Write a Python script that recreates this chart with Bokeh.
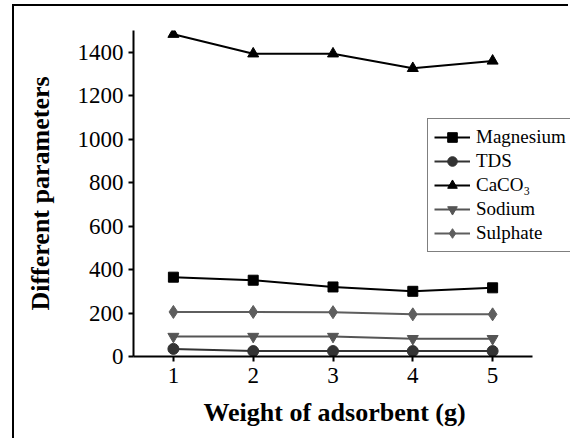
from bokeh.plotting import figure
from bokeh.models import Legend, LegendItem, Range1d, Title
from bokeh.embed import file_html
from bokeh.resources import INLINE

weights = [1, 2, 3, 4, 5]
magnesium = [365, 351, 320, 300, 316]
tds = [35, 25, 25, 25, 25]
caco3 = [1483, 1393, 1393, 1326, 1360]
sodium = [92, 92, 92, 82, 82]
sulphate = [205, 205, 204, 194, 194]
series_names = ["Magnesium", "TDS", "CaCO\u2083", "Sodium", "Sulphate"]
y_ticks = [0, 200, 400, 600, 800, 1000, 1200, 1400]
x_ticks = [1, 2, 3, 4, 5]
x_title = "Weight of adsorbent (g)"
y_title = "Different parameters"

FONT = "Liberation Serif"

p = figure(width=556, height=434, output_backend="svg", toolbar_location=None,
           x_range=Range1d(0.5, 5.976), y_range=Range1d(0, 1500),
           min_border_left=119, min_border_right=0, min_border_top=24, min_border_bottom=84)
p.styles = {"margin-left": "12px", "margin-top": "4px",
            "border-left": "2px solid black", "border-top": "2px solid black"}
p.outline_line_color = None
p.xgrid.visible = False
p.ygrid.visible = False

for ax in (p.xaxis[0], p.yaxis[0]):
    ax.axis_line_width = 2
    ax.axis_line_color = "black"
    ax.major_tick_line_width = 2
    ax.minor_tick_line_width = 2
    ax.major_tick_line_color = "black"
    ax.minor_tick_line_color = "black"
    ax.major_tick_in = 0
    ax.major_tick_out = 5
    ax.minor_tick_in = 0
    ax.minor_tick_out = 3
    ax.major_label_text_font = FONT
    ax.major_label_text_font_size = "23px"
    ax.major_label_text_color = "black"
    ax.axis_label_text_font = FONT
    ax.axis_label_text_font_style = "bold"
    ax.axis_label_text_font_size = "26px"
    ax.axis_label_text_color = "black"

p.xaxis.ticker = x_ticks
p.xaxis[0].ticker.num_minor_ticks = 2
p.xaxis[0].bounds = (0.5, 5.5)
p.yaxis.ticker = y_ticks
p.yaxis[0].ticker.num_minor_ticks = 2
p.yaxis.axis_label = y_title
p.xaxis.major_label_standoff = 6
p.yaxis.major_label_standoff = 5
p.yaxis.axis_label_standoff = 20

xt = Title(text=x_title, align="left", offset=70, standoff=21,
           text_font=FONT, text_font_style="bold", text_font_size="26px",
           text_color="black")
p.add_layout(xt, "below")

items = []
specs = [
    (magnesium, "black", "square", 10),
    (tds, "#333333", "circle", 11),
    (caco3, "black", "triangle", 11),
    (sodium, "#555555", "inverted_triangle", 11),
    (sulphate, "#5e5e5e", "diamond", 13),
]
for name, (vals, col, mk, sz) in zip(series_names, specs):
    r1 = p.line(weights, vals, line_color=col, line_width=2)
    r2 = p.scatter(weights, vals, marker=mk, size=sz, fill_color=col, line_color=col)
    items.append(LegendItem(label=name, renderers=[r1, r2]))

legend = Legend(items=items, location=(294, 104))
legend.label_text_font = FONT
legend.label_text_font_size = "19px"
legend.label_text_color = "black"
legend.border_line_color = "black"
legend.border_line_width = 1
legend.background_fill_alpha = 1
legend.glyph_width = 36
legend.glyph_height = 24
legend.label_height = 24
legend.spacing = 0
legend.padding = 6
legend.margin = 0
legend.label_standoff = 6
p.add_layout(legend)

open("out.html", "w").write(file_html(p, INLINE))
